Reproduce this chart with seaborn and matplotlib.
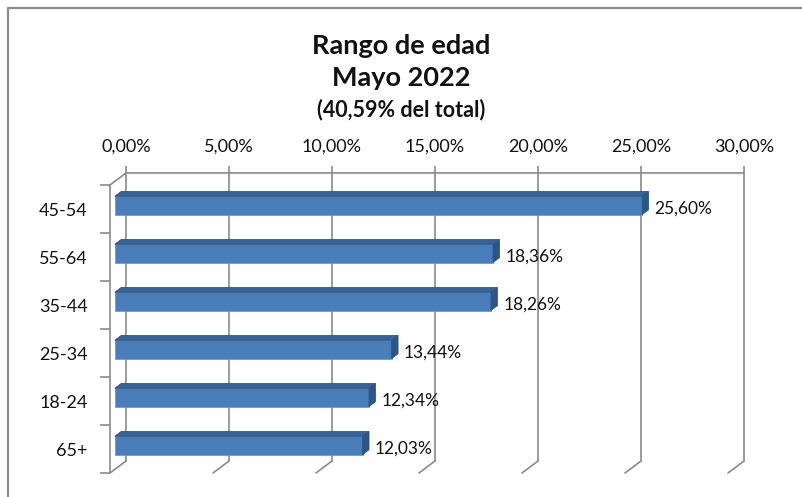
import matplotlib
matplotlib.use("Agg")
import matplotlib.pyplot as plt
import matplotlib.transforms as mtransforms
from matplotlib.patches import Polygon
from matplotlib.lines import Line2D
import seaborn as sns
import pandas as pd

# ---- data ----
categories = ["45-54", "55-64", "35-44", "25-34", "18-24", "65+"]
values = [25.60, 18.36, 18.26, 13.44, 12.34, 12.03]
tick_values = [0, 5, 10, 15, 20, 25, 30]
tick_labels = ["0,00%", "5,00%", "10,00%", "15,00%", "20,00%", "25,00%", "30,00%"]
title_lines = ["Rango de edad", "Mayo 2022", "(40,59% del total)"]

sns.set_theme(style="white")
plt.rcParams['font.family'] = ['Lato', 'DejaVu Sans']

W, H = 803, 497
fig = plt.figure(figsize=(W / 100, H / 100), dpi=100)
fig.patch.set_facecolor("white")


def rect(l, t, r, b):
    return [l / W, 1 - b / H, (r - l) / W, (b - t) / H]


GRID = "#8a8a8a"
TXT = "#111111"
DX, DY = 16, 12  # depth offset (display px) from front plane to back wall

# back wall axes
back = fig.add_axes(rect(126, 173, 744, 461))
back.set_xlim(0, 30)
back.set_ylim(0, 1)
back.set_facecolor("none")
back.set_xticks(tick_values)
back.set_xticklabels(tick_labels, fontsize=13, color=TXT)
back.xaxis.tick_top()
back.tick_params(axis="x", top=True, bottom=False, length=5, width=1.2,
                 color=GRID, pad=8)
back.set_yticks([])
for v in tick_values:
    back.axvline(v, color=GRID, lw=1.2, clip_on=False)
for s in ["left", "right", "bottom"]:
    back.spines[s].set_visible(False)
back.spines["top"].set_color(GRID)
back.spines["top"].set_linewidth(1.2)

# floor diagonals from back gridline bottoms toward front
for v in tick_values:
    x0, y0 = back.transData.transform((v, 0))
    fig.add_artist(Line2D([x0, x0 - DX], [y0, y0 - DY], transform=None,
                          color=GRID, lw=1.2))
# top-left diagonal
x0, y0 = back.transData.transform((0, 1))
fig.add_artist(Line2D([x0, x0 - DX], [y0, y0 - DY], transform=None,
                      color=GRID, lw=1.2))

# front plane axes
front = fig.add_axes(rect(110, 185, 728, 473))
front.set_facecolor("none")
df = pd.DataFrame({"cat": categories, "val": values})
sns.barplot(data=df, x="val", y="cat", orient="h", color="#4a7ebb",
            width=0.38, saturation=1, ax=front, edgecolor="#6f9ad0",
            linewidth=0.6)
front.set_xlim(0, 30)
front.set_ylim(5.5, -0.5)
front.set_xlabel("")
front.set_ylabel("")
front.set_xticks([])
for s in ["top", "right", "bottom"]:
    front.spines[s].set_visible(False)
front.spines["left"].set_color(GRID)
front.spines["left"].set_linewidth(1.2)
front.set_yticks(range(len(categories)))
front.set_yticklabels(categories, fontsize=13, color=TXT)
front.set_yticks([i - 0.5 for i in range(len(categories) + 1)], minor=True)
front.tick_params(axis="y", which="major", length=0, pad=16)
front.tick_params(axis="y", which="minor", length=7, width=1.2, color=GRID,
                  left=True)

a, b = 0.3, 0.7
shift = mtransforms.Affine2D().translate(a * DX, a * DY)
ddx, ddy = (b - a) * DX, (b - a) * DY
for p in list(front.patches):
    p.set_transform(front.transData + shift)
    x, y, w, h = p.get_x(), p.get_y(), p.get_width(), p.get_height()
    tr = front.transData + shift
    (xl, yt) = tr.transform((x, y))          # y smaller -> top (inverted axis)
    (xr, yb) = tr.transform((x + w, y + h))
    top = Polygon([(xl, yt), (xr, yt), (xr + ddx, yt + ddy), (xl + ddx, yt + ddy)],
                  closed=True, transform=None, facecolor="#35639a",
                  edgecolor="#2c5586", lw=0.6)
    side = Polygon([(xr, yb), (xr, yt), (xr + ddx, yt + ddy), (xr + ddx, yb + ddy)],
                   closed=True, transform=None, facecolor="#2d5687",
                   edgecolor="#2c5586", lw=0.6)
    fig.add_artist(top)
    fig.add_artist(side)

# data labels
for i, v in enumerate(values):
    lbl = f"{v:.2f}".replace(".", ",") + "%"
    front.annotate(lbl, (v, i), xytext=(17, 0), textcoords="offset pixels",
                   va="center", ha="left", fontsize=12.5, color=TXT)

# titles
fig.text(401 / W, 1 - 46 / H, title_lines[0], ha="center", va="center",
         fontsize=19.5, fontweight="bold", color=TXT)
fig.text(401 / W, 1 - 78 / H, title_lines[1], ha="center", va="center",
         fontsize=19.5, fontweight="bold", color=TXT)
fig.text(401 / W, 1 - 110 / H, title_lines[2], ha="center", va="center",
         fontsize=15.5, fontweight="bold", color=TXT)

# outer chart border (left and top visible)
fig.add_artist(Line2D([8, 8], [0, H - 8], transform=None, color="#8c8c8c", lw=1.6))
fig.add_artist(Line2D([8, W], [H - 8, H - 8], transform=None, color="#8c8c8c", lw=1.6))

fig.savefig("out.png", dpi=100)
